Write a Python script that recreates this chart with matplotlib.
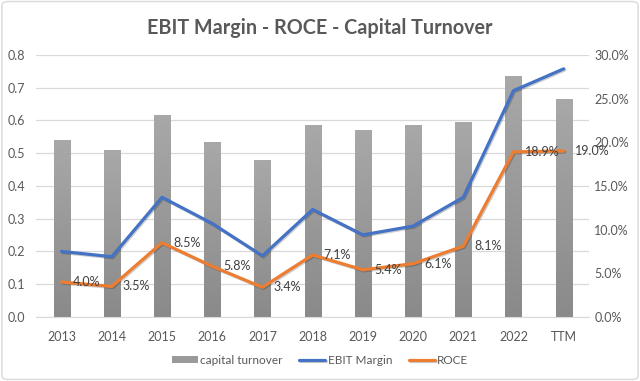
import numpy as np
import matplotlib
matplotlib.use("Agg")
import matplotlib.pyplot as plt
from matplotlib.patches import FancyBboxPatch
from matplotlib.ticker import FuncFormatter
import matplotlib.patheffects as pe

# данные с графика
years = ["2013", "2014", "2015", "2016", "2017", "2018", "2019", "2020", "2021", "2022", "TTM"]
capital_turnover = [0.54, 0.51, 0.615, 0.535, 0.48, 0.585, 0.57, 0.585, 0.595, 0.735, 0.665]
ebit_margin = [7.5, 6.9, 13.7, 10.7, 7.0, 12.3, 9.4, 10.4, 13.7, 25.9, 28.4]  # %
roce = [4.0, 3.5, 8.5, 5.8, 3.4, 7.1, 5.4, 6.1, 8.1, 18.9, 19.0]  # %

txt = "#595959"
grid_c = "#d9d9d9"
blue = "#4472C4"
orange = "#ED7D31"

plt.rcParams['font.family'] = ['Lato', 'DejaVu Sans']

fig = plt.figure(figsize=(6.4, 3.81), dpi=100)
fig.patch.set_facecolor("white")

# рамка вокруг диаграммы
border = FancyBboxPatch((0.003, 0.004), 0.994, 0.992, boxstyle="round,pad=0,rounding_size=0.01",
                        transform=fig.transFigure, fill=False, edgecolor="#d9d9d9", linewidth=1.0)
fig.patches.append(border)

ax = fig.add_axes([0.057, 0.168, 0.863, 0.688])
x = np.arange(len(years))

bars = ax.bar(x, capital_turnover, width=0.32, color="#9a9a9a", zorder=2, label="capital turnover")

# градиент в столбцах
grad = np.linspace(0, 1, 100).reshape(-1, 1)
cmap = matplotlib.colors.LinearSegmentedColormap.from_list("g", ["#8a8a8a", "#a8a8a8"])
for b in bars:
    bx, by = b.get_x(), b.get_y()
    bw, bh = b.get_width(), b.get_height()
    im = ax.imshow(grad, extent=[bx, bx + bw, by, by + bh], origin="lower", cmap=cmap,
                   aspect="auto", zorder=2.1)
    im.set_clip_path(b)

ax.set_xlim(-0.5, len(years) - 0.5)
ax.set_ylim(0, 0.8)
ax.set_yticks(np.arange(0, 0.81, 0.1))
ax.yaxis.set_major_formatter(FuncFormatter(lambda v, p: f"{v:.1f}"))
ax.set_xticks(x)
ax.set_xticklabels(years)
ax.grid(axis="y", color=grid_c, linewidth=0.9, zorder=0)
ax.set_axisbelow(True)
for s in ["top", "right", "left"]:
    ax.spines[s].set_visible(False)
ax.spines["bottom"].set_color(grid_c)
ax.tick_params(axis="both", length=0, colors=txt, labelsize=9)
ax.tick_params(axis="x", pad=10)
ax.tick_params(axis="y", pad=8)

ax2 = ax.twinx()
ax2.set_ylim(0, 30)
ax2.set_yticks(np.arange(0, 30.1, 5))
ax2.yaxis.set_major_formatter(FuncFormatter(lambda v, p: f"{v:.1f}%"))
for s in ax2.spines.values():
    s.set_visible(False)
ax2.tick_params(axis="y", length=0, colors=txt, labelsize=9, pad=4)

shadow = [pe.SimpleLineShadow(offset=(0.8, -0.8), alpha=0.2), pe.Normal()]
ax2.plot(x, ebit_margin, color=blue, linewidth=2.3, label="EBIT Margin", zorder=3,
         solid_joinstyle="round", solid_capstyle="round", path_effects=shadow)
ax2.plot(x, roce, color=orange, linewidth=2.3, label="ROCE", zorder=3,
         solid_joinstyle="round", solid_capstyle="round", path_effects=shadow)

for xi, v in zip(x, roce):
    ax2.annotate(f"{v:.1f}%", (xi, v), xytext=(8, 0), textcoords="offset points",
                 ha="left", va="center", fontsize=9, color="#404040", zorder=4)

fig.suptitle("EBIT Margin - ROCE - Capital Turnover", y=0.926, va="center", fontsize=14.2,
             fontweight="bold", color=txt)

h1, l1 = ax.get_legend_handles_labels()
h2, l2 = ax2.get_legend_handles_labels()
leg = fig.legend(h1 + h2, l1 + l2, loc="center", bbox_to_anchor=(0.5, 0.055), ncol=3,
                 frameon=False, fontsize=8.5, handlelength=2.2, handleheight=0.45,
                 columnspacing=1.4, handletextpad=0.2)
for t in leg.get_texts():
    t.set_color(txt)

fig.savefig("out.png", dpi=100)
